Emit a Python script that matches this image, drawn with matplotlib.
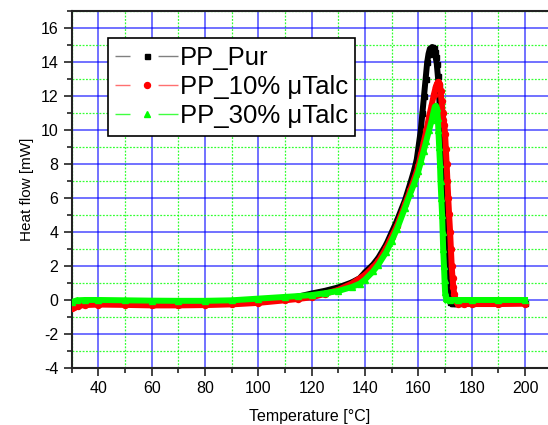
import matplotlib
matplotlib.use("Agg")
import matplotlib.pyplot as plt
from matplotlib.lines import Line2D
from matplotlib.ticker import MultipleLocator

plt.rcParams['font.family'] = ['Liberation Sans', 'DejaVu Sans']
plt.rcParams['axes.unicode_minus'] = False

# PP_Pur (black squares)
t_pur = [30, 32, 35, 40, 50, 60, 70, 80, 90, 100, 110, 115, 120, 125, 130, 135, 138, 140,
         143, 145, 148, 150, 152, 155, 157, 158.5, 159.4, 160.2, 160.9, 161.5, 162.1, 162.7,
         163.3, 163.8, 164.3, 164.8, 165.2, 165.7, 166.1, 166.5, 166.9, 167.3, 167.6, 167.8,
         168.1, 168.4, 168.6, 168.9, 169.1, 169.4, 169.7, 170.0, 170.3, 170.6, 170.9, 171.2,
         171.6, 172.0, 172.5, 173.0, 174, 176, 180, 190, 200]
h_pur = [-0.25, -0.18, -0.15, -0.15, -0.17, -0.2, -0.2, -0.18, -0.12, -0.02, 0.12, 0.22,
         0.4, 0.56, 0.76, 1.05, 1.3, 1.65, 2.1, 2.5, 3.3, 4.0, 4.7, 5.9, 6.9, 7.7, 8.3, 9.2,
         10.0, 11.0, 12.0, 13.0, 14.0, 14.5, 14.8, 14.85, 14.9, 14.85, 14.6, 14.3, 13.9,
         13.2, 12.6, 12.0, 11.0, 10.0, 9.0, 8.0, 7.0, 6.0, 5.0, 4.0, 3.0, 2.0, 1.2, 0.5,
         0.1, -0.1, -0.15, -0.17, -0.18, -0.17, -0.15, -0.15, -0.15]

# PP_10% µTalc (red circles)
t_10 = [30, 31, 32.5, 35, 40, 50, 60, 70, 80, 90, 100, 110, 115, 120, 125, 130, 135, 140,
        143, 145, 148, 150, 152, 155, 157, 159, 160, 161, 162, 163, 164, 165, 165.8, 166.5,
        167.0, 167.5, 167.9, 168.3, 168.7, 169.1, 169.4, 169.7, 170.0, 170.3, 170.6, 170.9,
        171.2, 171.5, 171.9, 172.2, 172.5, 172.8, 173.1, 173.4, 173.8, 174.3, 175, 177,
        180, 190, 200]
h_10 = [-0.45, -0.38, -0.32, -0.28, -0.25, -0.27, -0.3, -0.3, -0.28, -0.24, -0.15, 0.0,
        0.08, 0.18, 0.38, 0.62, 0.98, 1.5, 1.95, 2.3, 3.1, 3.75, 4.4, 5.65, 6.5, 7.4, 7.9,
        8.6, 9.3, 10.0, 10.8, 11.5, 12.1, 12.55, 12.75, 12.85, 12.75, 12.3, 11.7, 11.0,
        10.6, 10.3, 9.8, 8.9, 8.0, 7.0, 6.0, 5.1, 4.0, 3.0, 2.0, 1.3, 0.8, 0.4, 0.1, -0.1,
        -0.2, -0.22, -0.22, -0.22, -0.2]

# PP_30% µTalc (green triangles)
t_30 = [30, 32, 35, 40, 50, 60, 70, 80, 90, 100, 110, 115, 120, 125, 130, 135, 138, 140,
        143, 145, 148, 150, 152, 155, 157, 158.5, 160, 161, 162, 163, 164, 165, 165.7, 166.2,
        166.6, 167.0, 167.3, 167.5, 167.8, 168.1, 168.3, 168.6, 168.9, 169.1, 169.3, 169.6,
        169.8, 170.0, 170.3, 170.8, 172, 175, 180, 190, 200]
h_30 = [-0.1, 0.0, 0.02, 0.02, 0.0, -0.02, -0.03, -0.03, 0.0, 0.1, 0.2, 0.25, 0.31, 0.42,
        0.55, 0.78, 0.98, 1.22, 1.7, 2.1, 2.85, 3.5, 4.2, 5.45, 6.3, 6.9, 7.6, 8.2, 8.8, 9.4,
        10.0, 10.6, 11.1, 11.4, 11.45, 11.3, 10.7, 10.0, 9.0, 8.0, 7.0, 6.0, 5.0, 4.0, 3.0,
        2.0, 1.2, 0.5, 0.15, 0.05, 0.02, 0.02, 0.02, 0.02, 0.02]

labels = ['PP_Pur', 'PP_10% μTalc', 'PP_30% μTalc']

fig = plt.figure(figsize=(5.48, 4.25), dpi=100)
ax = fig.add_axes([0.1308, 0.1334, 0.8692, 0.8407])

ax.plot(t_pur, h_pur, color='black', lw=4.3, marker='s', ms=3.6, zorder=3)
ax.plot(t_10, h_10, color='red', lw=4.3, marker='o', ms=4.3, zorder=4)
ax.plot(t_30, h_30, color='#00ff00', lw=4.3, marker='^', ms=4.5, zorder=5)

ax.set_xlim(30, 208.6)
ax.set_ylim(-4, 17.02)
ax.xaxis.set_major_locator(MultipleLocator(20))
ax.xaxis.set_minor_locator(MultipleLocator(10))
ax.yaxis.set_major_locator(MultipleLocator(2))
ax.yaxis.set_minor_locator(MultipleLocator(1))

ax.set_axisbelow(True)
ax.grid(which='major', color='#0000ff', alpha=0.65, lw=1.2)
ax.grid(which='minor', color='#00ff00', alpha=0.8, lw=0.9, linestyle=(0, (1.5, 1.2)))

ax.spines['right'].set_visible(False)
for s in ['left', 'top', 'bottom']:
    ax.spines[s].set_linewidth(1.5)
    ax.spines[s].set_color('#222222')
ax.tick_params(which='major', direction='out', length=6, width=1.2, labelsize=11.5,
               color='#222222', right=False, top=False)
ax.tick_params(which='minor', direction='out', length=3.5, width=1.2, color='#222222',
               right=False, top=False)

ax.set_xlabel('Temperature [°C]', fontsize=11.5, labelpad=9)
ax.set_ylabel('Heat flow [mW]', fontsize=11, labelpad=5)

# Origin-style legend keys: line - marker - line
dash = (0, (10.8, 20.2, 14.4, 10))
handles = [
    (Line2D([], [], color='#808080', lw=1, linestyle=dash),
     Line2D([], [], color='black', marker='s', ms=3.6, linestyle='none')),
    (Line2D([], [], color='#ff7070', lw=1, linestyle=dash),
     Line2D([], [], color='red', marker='o', ms=4.3, linestyle='none')),
    (Line2D([], [], color='#40ff40', lw=1, linestyle=dash),
     Line2D([], [], color='#00ff00', marker='^', ms=4.5, linestyle='none')),
]
leg = ax.legend(handles, labels, loc='upper left', bbox_to_anchor=(0.0756, 0.9244),
                borderaxespad=0, fontsize=18.5, handlelength=2.45, handletextpad=0.05,
                labelspacing=0.2, borderpad=0.3, fancybox=False, framealpha=1,
                edgecolor='black')
leg.get_frame().set_linewidth(1.2)

fig.savefig('out.png', dpi=100)
